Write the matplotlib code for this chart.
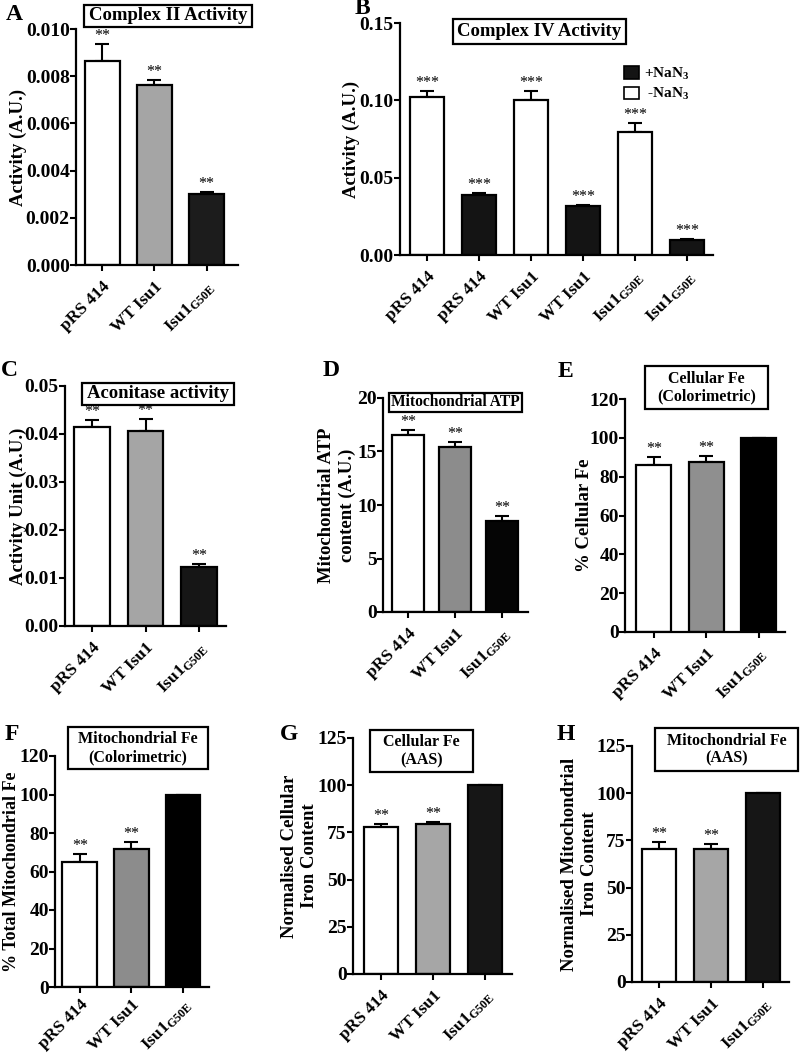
import matplotlib
matplotlib.use("Agg")
import matplotlib.pyplot as plt
from matplotlib.patches import Rectangle, Patch

plt.rcParams['font.family'] = ['Liberation Serif', 'DejaVu Serif']
plt.rcParams['font.weight'] = 'bold'
plt.rcParams['axes.labelweight'] = 'bold'
plt.rcParams['mathtext.fontset'] = 'custom'
plt.rcParams['mathtext.rm'] = 'Liberation Serif:bold'
plt.rcParams['mathtext.bf'] = 'Liberation Serif:bold'
plt.rcParams['mathtext.it'] = 'Liberation Serif:bold'

# ---------------- data ----------------
cats3 = ['pRS 414', 'WT Isu1', r'Isu1$_{\mathbf{G50E}}$']
cats6 = ['pRS 414', 'pRS 414', 'WT Isu1', 'WT Isu1',
         r'Isu1$_{\mathbf{G50E}}$', r'Isu1$_{\mathbf{G50E}}$']

a_vals = [0.00866, 0.00763, 0.0030]
a_err = [0.0007, 0.0002, 0.0001]
a_sig = ['**', '**', '**']

b_vals = [0.1022, 0.0389, 0.0999, 0.0316, 0.0794, 0.0097]
b_err = [0.0041, 0.0009, 0.0064, 0.0009, 0.0058, 0.0008]
b_sig = ['***'] * 6

c_vals = [0.0415, 0.0407, 0.0123]
c_err = [0.0014, 0.0024, 0.0007]
c_sig = ['**', '**', '**']

d_vals = [16.5, 15.4, 8.5]
d_err = [0.5, 0.47, 0.5]
d_sig = ['**', '**', '**']

e_vals = [85.9, 87.3, 100]
e_err = [4.4, 3.4, 0]
e_sig = ['**', '**', '']

f_vals = [64.7, 71.5, 100]
f_err = [4.2, 3.9, 0]
f_sig = ['**', '**', '']

g_vals = [78.0, 79.5, 100]
g_err = [1.7, 1.2, 0]
g_sig = ['**', '**', '']

h_vals = [70.5, 70.5, 100]
h_err = [3.4, 2.6, 0]
h_sig = ['**', '**', '']

W, H = 800, 1053
fig = plt.figure(figsize=(W / 100, H / 100), dpi=100)


def fx(x):
    return x / W


def fy(y):
    return 1 - y / H


def panel(left, right, top, bottom, cats, vals, errs, sigs, colors, ylim,
          yticks, yfmt, ylabel, xlim, label_right, bw=0.67, ylsize=13.5, xpad=6):
    ax = fig.add_axes([fx(left), fy(bottom), fx(right - left), (bottom - top) / H])
    x = list(range(len(vals)))
    ax.bar(x, vals, width=bw, color=colors, edgecolor='black', linewidth=1.6, zorder=2)
    ax.errorbar(x, vals, yerr=[[0] * len(vals), errs], fmt='none', ecolor='black',
                elinewidth=1.5, capsize=5.2, capthick=1.5, zorder=1)
    for xi, v, e, s in zip(x, vals, errs, sigs):
        if s:
            ax.annotate(s, (xi, v + e), xytext=(0, 0), textcoords='offset points',
                        ha='center', va='bottom', fontsize=11.5, fontweight='normal')
    ax.set_ylim(*ylim)
    ax.set_xlim(*xlim)
    ax.set_yticks(yticks)
    ax.set_yticklabels([yfmt.format(t) for t in yticks])
    ax.set_xticks(x)
    ax.set_xticklabels(cats, rotation=45, ha='right', va='top', rotation_mode='anchor')
    ax.spines['top'].set_visible(False)
    ax.spines['right'].set_visible(False)
    for s in ('left', 'bottom'):
        ax.spines[s].set_linewidth(1.6)
    ax.tick_params(axis='both', direction='out', width=1.5, length=4, labelsize=14, pad=0.5)
    ax.tick_params(axis='x', labelsize=12.5, pad=xpad)
    ax.set_ylabel(ylabel, fontsize=ylsize, linespacing=1.25)
    ax.yaxis.set_label_coords((label_right - left) / (right - left), 0.5)
    ax.set_facecolor('none')
    return ax


def title_box(x0, y0, x1, y1, text, size):
    fig.patches.append(Rectangle((fx(x0), fy(y1)), fx(x1 - x0), (y1 - y0) / H,
                                 transform=fig.transFigure, fill=False,
                                 edgecolor='black', linewidth=1.6))
    fig.text(fx((x0 + x1) / 2), fy((y0 + y1) / 2), text, ha='center', va='center',
             fontsize=size, linespacing=1.15)


def letter(x, y, t):
    fig.text(fx(x), fy(y), t, ha='center', va='center', fontsize=17)


gw = 'white'
# A
panel(76, 238, 29, 265, cats3, a_vals, a_err, a_sig, [gw, '#a5a5a5', '#1c1c1c'],
      (0, 0.010), [0, 0.002, 0.004, 0.006, 0.008, 0.010], '{:.3f}',
      'Activity (A.U.)', (-0.5, 2.6), 27)
title_box(84, 5, 252, 27, 'Complex II Activity', 13.5)
letter(14, 15, 'A')

# B
axb = panel(400, 713, 23, 255, cats6, b_vals, b_err, b_sig,
            [gw, '#141414', gw, '#141414', gw, '#141414'],
            (0, 0.15), [0, 0.05, 0.10, 0.15], '{:.2f}',
            'Activity (A.U.)', (-0.52, 5.5), 360)
title_box(453, 19, 626, 44, 'Complex IV Activity', 13.5)
letter(362, 9, 'B')
handles = [Patch(facecolor='#141414', edgecolor='black', linewidth=1.2),
           Patch(facecolor='white', edgecolor='black', linewidth=1.2)]
fig.legend(handles, ['+NaN$_3$', ' -NaN$_3$'], loc='upper left',
           bbox_to_anchor=(fx(613), fy(55)), bbox_transform=fig.transFigure,
           frameon=False, fontsize=11, handlelength=1.0, handleheight=0.9,
           handletextpad=0.35, labelspacing=0.3, borderpad=0.2)

# C
panel(65, 226, 386, 626, cats3, c_vals, c_err, c_sig, [gw, '#a5a5a5', '#161616'],
      (0, 0.05), [0, 0.01, 0.02, 0.03, 0.04, 0.05], '{:.2f}',
      'Activity Unit (A.U.)', (-0.51, 2.51), 27)
title_box(82, 383, 234, 405, 'Aconitase activity', 13.5)
letter(9, 371, 'C')

# D
panel(383, 528, 398, 612, cats3, d_vals, d_err, d_sig, [gw, '#8c8c8c', '#050505'],
      (0, 20), [0, 5, 10, 15, 20], '{:d}',
      'Mitochondrial ATP\ncontent (A.U.)', (-0.53, 2.55), 356, bw=0.68)
title_box(389, 393, 522, 412, 'Mitochondrial ATP', 11.2)
letter(331, 371, 'D')

# E
panel(625, 785, 399, 632, cats3, e_vals, e_err, e_sig, [gw, '#8f8f8f', '#000000'],
      (0, 120), [0, 20, 40, 60, 80, 100, 120], '{:d}',
      '% Cellular Fe', (-0.55, 2.5), 593)
title_box(645, 366, 768, 409, 'Cellular Fe\n(Colorimetric)', 11.5)
letter(565, 372, 'E')

# F
panel(55, 209, 756, 987, cats3, f_vals, f_err, f_sig, [gw, '#8c8c8c', '#000000'],
      (0, 120), [0, 20, 40, 60, 80, 100, 120], '{:d}',
      '% Total Mitochondrial Fe', (-0.48, 2.5), 20, ylsize=13, xpad=3)
title_box(68, 727, 208, 769, 'Mitochondrial Fe\n(Colorimetric)', 11.5)
letter(12, 735, 'F')

# G
panel(353, 512, 738, 974, cats3, g_vals, g_err, g_sig, [gw, '#a6a6a6', '#161616'],
      (0, 125), [0, 25, 50, 75, 100, 125], '{:d}',
      'Normalised Cellular\nIron Content', (-0.54, 2.52), 318)
title_box(370, 730, 473, 772, 'Cellular Fe\n(AAS)', 11.5)
letter(289, 734, 'G')

# H
panel(632, 789, 746, 982, cats3, h_vals, h_err, h_sig, [gw, '#a6a6a6', '#161616'],
      (0, 125), [0, 25, 50, 75, 100, 125], '{:d}',
      'Normalised Mitochondrial\nIron Content', (-0.52, 2.5), 598)
title_box(655, 728, 798, 771, 'Mitochondrial Fe\n(AAS)', 11.5)
letter(566, 734, 'H')

fig.savefig('out.png', dpi=100)
